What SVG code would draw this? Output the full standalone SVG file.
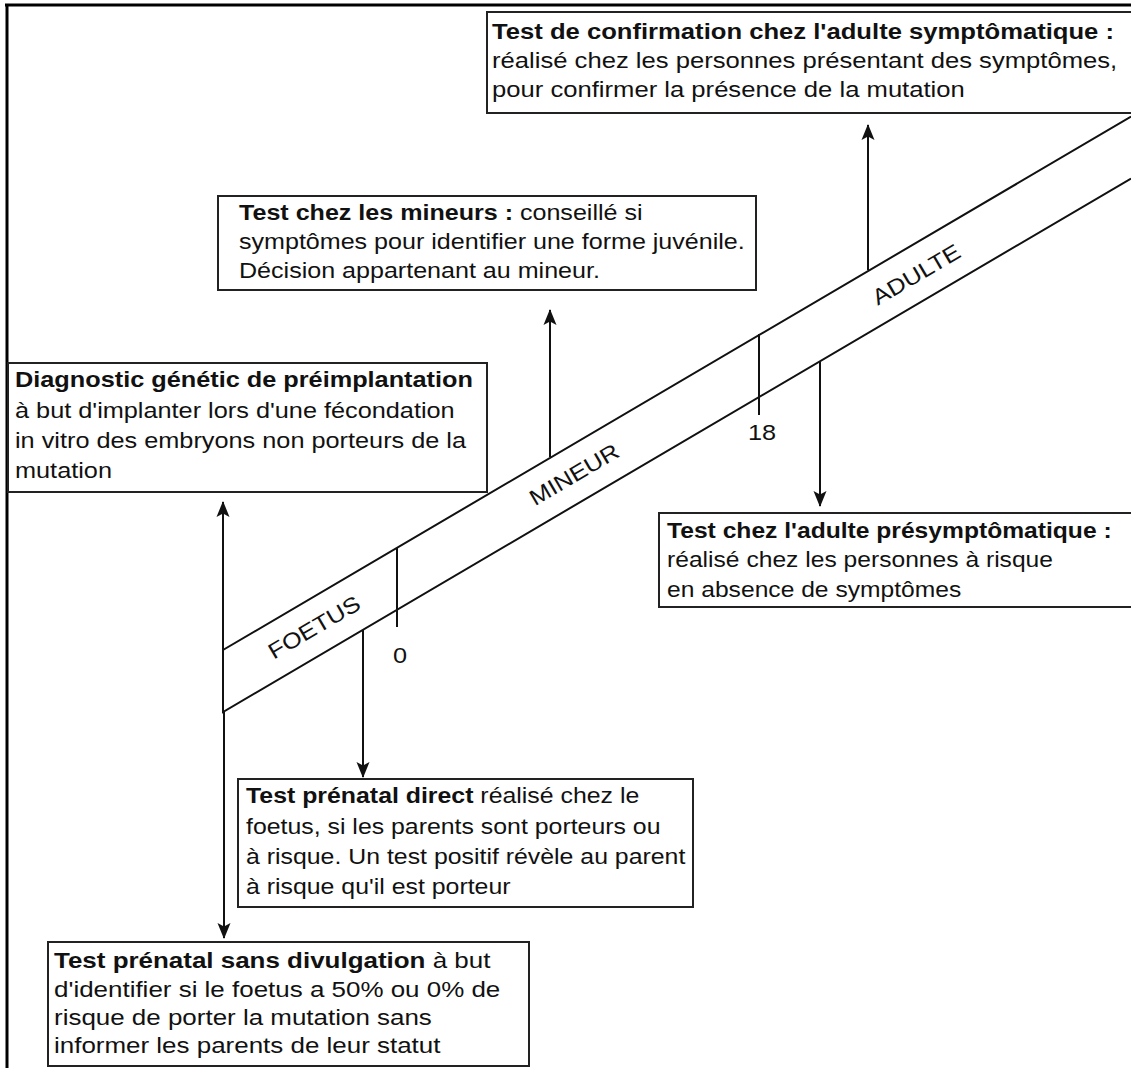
<svg xmlns="http://www.w3.org/2000/svg" width="1131" height="1068" viewBox="0 0 1131 1068">
<defs>
<style>
.box{fill:#fff;stroke:#222;stroke-width:2}
.t{font-family:"Liberation Sans",Arial,sans-serif;font-size:22px;fill:#111}
.b{font-weight:bold}
.ln{stroke:#111;stroke-width:2;fill:none}
.lbl{font-family:"Liberation Sans",Arial,sans-serif;font-size:22px;fill:#111;text-anchor:middle}
</style>
<marker id="ah" viewBox="0 0 16 14" refX="15" refY="7" markerWidth="16" markerHeight="14" markerUnits="userSpaceOnUse" orient="auto">
<path d="M0,0.5 L16,7 L0,13.5 L3.5,7 z" fill="#111"/>
</marker>
</defs>
<rect width="1131" height="1068" fill="#fff"/>
<g id="frame">
<line x1="5" y1="5" x2="1131" y2="5" stroke="#000" stroke-width="3"/>
<line x1="7" y1="4" x2="7" y2="1068" stroke="#000" stroke-width="3"/>
</g>
<g id="band">
<polyline class="ln" points="1131,116.6 223,650 223,712 1131,178.5"/>
<line class="ln" x1="397" y1="548" x2="397" y2="627"/>
<line class="ln" x1="759" y1="334" x2="759" y2="415"/>
<text class="lbl" transform="translate(314,627) rotate(-30.4) scale(1.15,1)" y="8">FOETUS</text>
<text class="lbl" transform="translate(574,474) rotate(-30.4) scale(1.15,1)" y="8">MINEUR</text>
<text class="lbl" transform="translate(916,274) rotate(-30.4) scale(1.15,1)" y="8">ADULTE</text>
<text class="lbl" transform="translate(400,663) scale(1.15,1)">0</text>
<text class="lbl" transform="translate(762,440) scale(1.15,1)">18</text>
</g>
<g id="connectors">
<line class="ln" x1="223" y1="650" x2="223" y2="502" marker-end="url(#ah)"/>
<line class="ln" x1="224" y1="712" x2="224" y2="938" marker-end="url(#ah)"/>
<line class="ln" x1="363" y1="630" x2="363" y2="777" marker-end="url(#ah)"/>
<line class="ln" x1="550" y1="457" x2="550" y2="310" marker-end="url(#ah)"/>
<line class="ln" x1="868" y1="270" x2="868" y2="125" marker-end="url(#ah)"/>
<line class="ln" x1="820" y1="362" x2="820" y2="506" marker-end="url(#ah)"/>
</g>
<g id="box-confirmation">
<rect class="box" x="487" y="12" width="660" height="101"/>
<g transform="translate(492,0) scale(1.165,1)">
<text class="t" y="39"><tspan class="b">Test de confirmation chez l'adulte symptômatique :</tspan></text>
<text class="t" y="68">réalisé chez les personnes présentant des symptômes,</text>
<text class="t" y="97">pour confirmer la présence de la mutation</text>
</g>
</g>
<g id="box-mineurs">
<rect class="box" x="218" y="196" width="538" height="94"/>
<g transform="translate(239,0) scale(1.14,1)">
<text class="t" y="220"><tspan class="b">Test chez les mineurs :</tspan> conseillé si</text>
<text class="t" y="249">symptômes pour identifier une forme juvénile.</text>
<text class="t" y="278">Décision appartenant au mineur.</text>
</g>
</g>
<g id="box-preimplantation">
<rect class="box" x="8" y="363" width="479" height="129"/>
<g transform="translate(15,0) scale(1.15,1)">
<text class="t" y="387"><tspan class="b">Diagnostic génétic de préimplantation</tspan></text>
<text class="t" y="418">à but d'implanter lors d'une fécondation</text>
<text class="t" y="448">in vitro des embryons non porteurs de la</text>
<text class="t" y="478">mutation</text>
</g>
</g>
<g id="box-presymptomatique">
<rect class="box" x="659" y="513" width="490" height="94"/>
<g transform="translate(667,0) scale(1.12,1)">
<text class="t" y="538"><tspan class="b">Test chez l'adulte présymptômatique :</tspan></text>
<text class="t" y="567">réalisé chez les personnes à risque</text>
<text class="t" y="597">en absence de symptômes</text>
</g>
</g>
<g id="box-prenatal-direct">
<rect class="box" x="238" y="779" width="455" height="128"/>
<g transform="translate(246,0) scale(1.13,1)">
<text class="t" y="803"><tspan class="b">Test prénatal direct</tspan> réalisé chez le</text>
<text class="t" y="834">foetus, si les parents sont porteurs ou</text>
<text class="t" y="864">à risque. Un test positif révèle au parent</text>
<text class="t" y="894">à risque qu'il est porteur</text>
</g>
</g>
<g id="box-sans-divulgation">
<rect class="box" x="48" y="942" width="481" height="124"/>
<g transform="translate(54,0) scale(1.18,1)">
<text class="t" y="968"><tspan class="b">Test prénatal sans divulgation</tspan> à but</text>
<text class="t" y="997">d'identifier si le foetus a 50% ou 0% de</text>
<text class="t" y="1025">risque de porter la mutation sans</text>
<text class="t" y="1053">informer les parents de leur statut</text>
</g>
</g>
</svg>
